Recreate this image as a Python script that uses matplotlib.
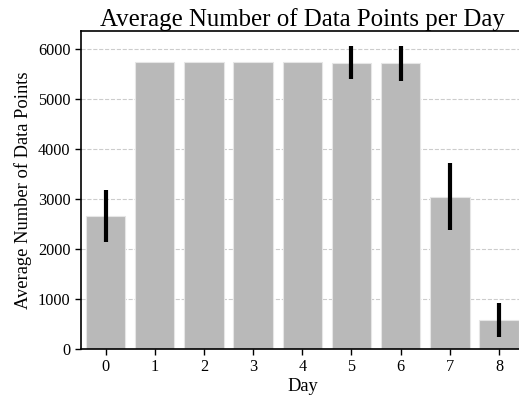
import matplotlib
matplotlib.use("Agg")
import matplotlib.pyplot as plt

# mean number of data points per day and the spread around each mean
days = [0, 1, 2, 3, 4, 5, 6, 7, 8]
mean_points = [2660, 5750, 5750, 5750, 5750, 5720, 5720, 3050, 580]
err_low = [510, 0, 0, 0, 0, 320, 350, 670, 330]
err_high = [520, 0, 0, 0, 0, 340, 350, 680, 350]

plt.rcParams['font.family'] = ['Liberation Serif', 'DejaVu Serif']

fig = plt.figure(figsize=(5.19, 3.96), dpi=100)
ax = fig.add_axes([81 / 519, 47 / 396, 442.6 / 519, 318 / 396])

ax.bar(days, mean_points, width=0.8, color='#b9b9b9', edgecolor='#e6e6e6',
       linewidth=0.8, zorder=2)
ax.errorbar(days, mean_points, yerr=[err_low, err_high], fmt='none',
            ecolor='black', elinewidth=3, capsize=0, zorder=3)

ax.set_xlim(-0.5, 8.5)
ax.set_ylim(0, 6360)
ax.set_xticks(days)
ax.set_yticks([0, 1000, 2000, 3000, 4000, 5000, 6000])
ax.yaxis.grid(True, linestyle='--', color='#cccccc', linewidth=0.8, zorder=0)
ax.set_axisbelow(True)
ax.tick_params(labelsize=11.7, length=4, width=1)

for side in ['left', 'bottom', 'top', 'right']:
    ax.spines[side].set_linewidth(1.2)

ax.set_title('Average Number of Data Points per Day', fontsize=17.9, pad=3)
ax.set_xlabel('Day', fontsize=13.3, labelpad=2)
ax.set_ylabel('Average Number of Data Points', fontsize=13.3)

fig.savefig('out.png', dpi=100)
